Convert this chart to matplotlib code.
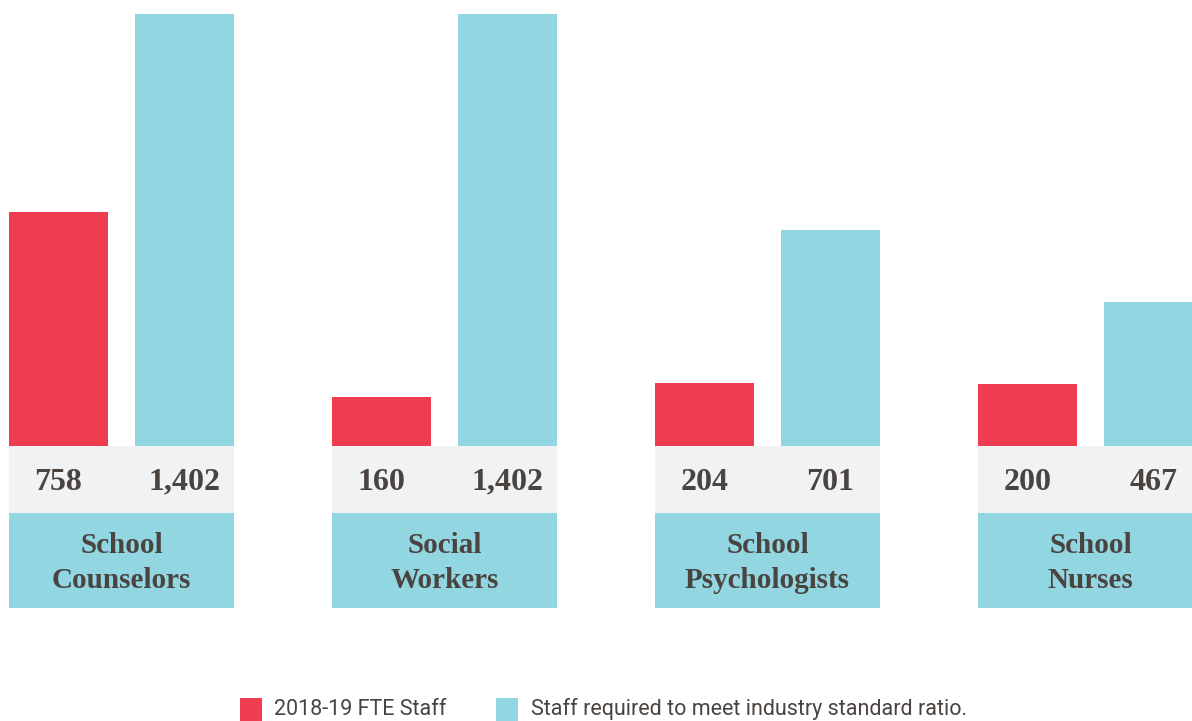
import matplotlib.pyplot as plt
from matplotlib.patches import Rectangle

categories = ["School\nCounselors", "Social\nWorkers", "School\nPsychologists", "School\nNurses"]
fte_staff = [758, 160, 204, 200]
required_staff = [1402, 1402, 701, 467]
fte_labels = ["758", "160", "204", "200"]
required_labels = ["1,402", "1,402", "701", "467"]

RED = "#EF3C4E"
CYAN = "#92D6E2"
GRAY = "#F1F2F4"
TEXT = "#4A4441"

# pixel geometry of the reference (1192x721)
W, H = 1192, 721
period = 323.0
px_per_unit = 432 / 1402.0
base_px = 446

fig = plt.figure(figsize=(W / 100, H / 100), dpi=100)
ax = fig.add_axes([0, 0, 1, 1])
ax.set_xlim(-9 / period, (W - 9) / period)
ax.set_ylim((base_px - H) / px_per_unit, base_px / px_per_unit)
ax.axis("off")


def py(p):
    # pixel row from top -> data y
    return (base_px - p) / px_per_unit


def px(p):
    # pixel column -> data x
    return (p - 9) / period


bar_w = 99 / period
cyan_off = 126 / period
band_w = 225 / period

for i, cat in enumerate(categories):
    ax.bar(i, fte_staff[i], width=bar_w, align="edge", color=RED, linewidth=0)
    ax.bar(i + cyan_off, required_staff[i], width=bar_w, align="edge", color=CYAN, linewidth=0)
    ax.add_patch(Rectangle((i, py(513)), band_w, py(446) - py(513), color=GRAY, lw=0))
    ax.add_patch(Rectangle((i, py(608)), band_w, py(513) - py(608), color=CYAN, lw=0))
    ax.text(i + bar_w / 2, py(482), fte_labels[i], ha="center", va="center",
            family="Liberation Serif", weight="bold", size=23, color=TEXT)
    ax.text(i + cyan_off + bar_w / 2, py(482), required_labels[i], ha="center", va="center",
            family="Liberation Serif", weight="bold", size=23, color=TEXT)
    ax.text(i + band_w / 2, py(563), cat, ha="center", va="center", linespacing=1.4,
            family="Liberation Serif", weight="bold", size=21, color=TEXT)

# legend along the bottom edge
ax.add_patch(Rectangle((px(240), py(722)), 22 / period, py(698) - py(722),
                       color=RED, lw=0, clip_on=False))
ax.text(px(274), py(715), "2018-19 FTE Staff", ha="left", va="baseline",
        family="Roboto", size=15.5, color=TEXT)
ax.add_patch(Rectangle((px(496), py(722)), 22 / period, py(698) - py(722),
                       color=CYAN, lw=0, clip_on=False))
ax.text(px(531), py(715), "Staff required to meet industry standard ratio.",
        ha="left", va="baseline", family="Roboto", size=15.5, color=TEXT)

fig.savefig("out.png", dpi=100)
